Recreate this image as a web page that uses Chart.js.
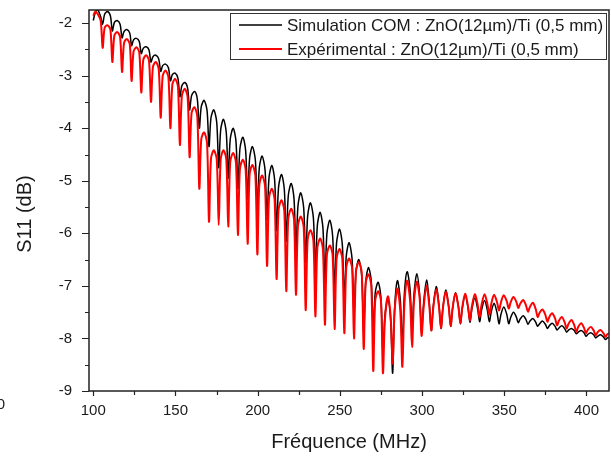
<!DOCTYPE html>
<html>
<head>
<meta charset="utf-8">
<title>S11 ZnO/Ti</title>
<script src="https://cdn.jsdelivr.net/npm/chart.js@4.4.1/dist/chart.umd.min.js"></script>
<style>
  html, body { margin: 0; padding: 0; background: #fff; }
</style>
</head>
<body>
<canvas id="s11Chart" width="611" height="457"></canvas>
<script>
// S11 of the ZnO(12um)/Ti (0.5 mm) resonator: COM simulation vs measurement.
// One row per resonance period: dip, rising shoulder, arch top, falling shoulder.

const FONT = "'Liberation Sans', Arial, sans-serif";
const TEXT_COLOR = "#1a1a1a";

// Frequencies (MHz), shared by both curves
const freq = [
  100.0, 101.2, 102.6, 104.5,
  105.7, 106.9, 108.6, 110.4,
  111.6, 112.8, 114.5, 116.3,
  117.5, 118.7, 120.4, 122.2,
  123.3, 124.5, 126.3, 128.0,
  129.2, 130.4, 132.2, 133.9,
  135.1, 136.3, 138.0, 139.8,
  141.0, 142.2, 143.9, 145.7,
  146.9, 148.1, 149.8, 151.5,
  152.7, 153.9, 155.7, 157.4,
  158.6, 159.8, 161.6, 163.3,
  164.5, 165.7, 167.4, 169.2,
  170.4, 171.6, 173.3, 175.1,
  176.3, 177.5, 179.2, 180.9,
  182.1, 183.3, 185.1, 186.8,
  188.0, 189.2, 191.0, 192.7,
  193.9, 195.1, 196.8, 198.6,
  199.8, 201.0, 202.7, 204.5,
  205.7, 206.9, 208.6, 210.3,
  211.5, 212.7, 214.5, 216.2,
  217.4, 218.6, 220.4, 222.1,
  223.3, 224.5, 226.2, 228.0,
  229.2, 230.4, 232.1, 233.9,
  235.1, 236.3, 238.0, 239.7,
  240.9, 242.1, 243.9, 245.6,
  246.8, 248.0, 249.8, 251.5,
  252.7, 253.9, 255.6, 257.4,
  258.6, 259.8, 261.5, 263.3,
  264.5, 265.7, 267.4, 269.1,
  270.3, 271.5, 273.3, 275.0,
  276.2, 277.4, 279.2, 280.9,
  282.1, 283.3, 285.0, 286.8,
  288.0, 289.2, 290.9, 292.7,
  293.9, 295.1, 296.8, 298.5,
  299.7, 300.9, 302.7, 304.4,
  305.6, 306.8, 308.6, 310.3,
  311.5, 312.7, 314.4, 316.2,
  317.4, 318.6, 320.3, 322.1,
  323.3, 324.5, 326.2, 327.9,
  329.1, 330.3, 332.1, 333.8,
  335.0, 336.2, 338.0, 339.7,
  340.9, 342.1, 343.8, 345.6,
  346.8, 348.0, 349.7, 351.5,
  352.7, 353.9, 355.6, 357.3,
  358.5, 359.7, 361.5, 363.2,
  364.4, 365.6, 367.4, 369.1,
  370.3, 371.5, 373.2, 375.0,
  376.2, 377.4, 379.1, 380.9,
  382.1, 383.3, 385.0, 386.7,
  387.9, 389.1, 390.9, 392.6,
  393.8, 395.0, 396.8, 398.5,
  399.7, 400.9, 402.6, 404.4,
  405.6, 406.8, 408.5, 410.3,
  411.5, 412.7, 413.7
];

// Simulation COM (dB)
const simS11 = [
  -1.95, -1.80, -1.74, -1.88,
  -2.02, -1.83, -1.78, -1.86,
  -2.15, -1.99, -1.95, -2.02,
  -2.28, -2.16, -2.12, -2.19,
  -2.43, -2.32, -2.29, -2.35,
  -2.58, -2.48, -2.45, -2.51,
  -2.74, -2.64, -2.61, -2.68,
  -2.92, -2.81, -2.78, -2.85,
  -3.10, -2.98, -2.95, -3.05,
  -3.40, -3.19, -3.13, -3.24,
  -3.65, -3.38, -3.30, -3.45,
  -4.00, -3.59, -3.47, -3.66,
  -4.35, -3.80, -3.65, -3.89,
  -4.75, -4.03, -3.83, -4.08,
  -4.95, -4.21, -4.00, -4.25,
  -5.15, -4.39, -4.17, -4.43,
  -5.35, -4.57, -4.35, -4.61,
  -5.55, -4.75, -4.53, -4.80,
  -5.75, -4.94, -4.71, -4.98,
  -5.95, -5.12, -4.88, -5.16,
  -6.15, -5.29, -5.05, -5.34,
  -6.35, -5.48, -5.23, -5.52,
  -6.55, -5.67, -5.42, -5.71,
  -6.75, -5.85, -5.60, -5.90,
  -6.95, -6.01, -5.75, -6.05,
  -7.10, -6.18, -5.92, -6.22,
  -7.30, -6.43, -6.18, -6.48,
  -7.55, -6.73, -6.50, -6.81,
  -7.90, -6.93, -6.65, -6.91,
  -7.85, -7.13, -6.93, -7.23,
  -8.30, -7.57, -7.25, -7.67,
  -8.66, -7.43, -6.90, -7.29,
  -8.20, -7.17, -6.73, -7.07,
  -7.85, -7.15, -6.77, -7.16,
  -7.88, -7.34, -6.89, -7.32,
  -7.85, -7.39, -7.01, -7.37,
  -7.81, -7.41, -7.08, -7.39,
  -7.77, -7.42, -7.13, -7.40,
  -7.72, -7.42, -7.18, -7.41,
  -7.69, -7.44, -7.23, -7.44,
  -7.68, -7.46, -7.28, -7.46,
  -7.68, -7.49, -7.33, -7.51,
  -7.72, -7.54, -7.40, -7.54,
  -7.72, -7.60, -7.50, -7.59,
  -7.70, -7.63, -7.57, -7.64,
  -7.73, -7.67, -7.62, -7.69,
  -7.77, -7.72, -7.67, -7.73,
  -7.81, -7.76, -7.71, -7.77,
  -7.84, -7.80, -7.76, -7.81,
  -7.88, -7.84, -7.81, -7.85,
  -7.91, -7.88, -7.85, -7.89,
  -7.96, -7.92, -7.89, -7.93,
  -7.99, -7.96, -7.93, -7.97,
  -8.02, -7.99, -7.98
];

// Expérimental (dB)
const expS11 = [
  -1.86, -1.78, -1.82, -1.95,
  -2.47, -2.09, -2.04, -2.12,
  -2.74, -2.24, -2.17, -2.26,
  -2.93, -2.38, -2.30, -2.40,
  -3.10, -2.54, -2.46, -2.56,
  -3.32, -2.70, -2.61, -2.72,
  -3.50, -2.83, -2.74, -2.87,
  -3.80, -3.01, -2.90, -3.03,
  -4.00, -3.17, -3.06, -3.21,
  -4.32, -3.38, -3.25, -3.41,
  -4.55, -3.71, -3.60, -3.79,
  -5.15, -4.21, -4.08, -4.28,
  -5.78, -4.58, -4.42, -4.59,
  -5.84, -4.59, -4.42, -4.59,
  -5.87, -4.64, -4.47, -4.66,
  -6.03, -4.77, -4.60, -4.79,
  -6.20, -4.88, -4.70, -4.90,
  -6.40, -5.08, -4.90, -5.11,
  -6.62, -5.33, -5.15, -5.36,
  -6.87, -5.55, -5.37, -5.58,
  -7.10, -5.72, -5.53, -5.73,
  -7.17, -5.86, -5.68, -5.89,
  -7.46, -6.12, -5.94, -6.14,
  -7.58, -6.28, -6.10, -6.30,
  -7.74, -6.41, -6.23, -6.42,
  -7.82, -6.48, -6.30, -6.49,
  -7.90, -6.65, -6.48, -6.66,
  -8.00, -6.72, -6.55, -6.75,
  -8.20, -6.95, -6.78, -7.00,
  -8.62, -7.28, -7.10, -7.29,
  -8.66, -7.64, -7.20, -7.58,
  -8.48, -7.48, -7.05, -7.50,
  -8.54, -7.39, -6.90, -7.28,
  -8.16, -7.29, -6.92, -7.23,
  -7.95, -7.43, -7.00, -7.38,
  -7.85, -7.42, -7.07, -7.40,
  -7.80, -7.42, -7.11, -7.40,
  -7.76, -7.42, -7.14, -7.40,
  -7.71, -7.40, -7.15, -7.38,
  -7.66, -7.39, -7.16, -7.36,
  -7.60, -7.36, -7.16, -7.34,
  -7.55, -7.34, -7.17, -7.31,
  -7.47, -7.31, -7.18, -7.29,
  -7.43, -7.31, -7.21, -7.30,
  -7.42, -7.34, -7.27, -7.37,
  -7.49, -7.40, -7.32, -7.44,
  -7.59, -7.51, -7.45, -7.55,
  -7.68, -7.59, -7.52, -7.62,
  -7.75, -7.66, -7.59, -7.69,
  -7.81, -7.72, -7.65, -7.75,
  -7.87, -7.78, -7.71, -7.80,
  -7.90, -7.83, -7.78, -7.85,
  -7.94, -7.88, -7.84, -7.90,
  -7.97, -7.92, -7.90
];

// Axis ticks
const xMajorTicks = [100, 150, 200, 250, 300, 350, 400];
const xMinorTicks = [125, 175, 225, 275, 325, 375];
const yMajorTicks = [-9, -8, -7, -6, -5, -4, -3, -2];
const yMinorTicks = [-8.5, -7.5, -6.5, -5.5, -4.5, -3.5, -2.5];

const seriesLabels = [
  "Simulation COM : ZnO(12µm)/Ti (0,5 mm)",
  "Expérimental : ZnO(12µm)/Ti (0,5 mm)",
];

const simPoints = freq.map((f, i) => ({ x: f, y: simS11[i] }));
const expPoints = freq.map((f, i) => ({ x: f, y: expS11[i] }));

// Frame, outward tick marks, y title and the boxed legend
const decorPlugin = {
  id: "decor",
  afterDatasetsDraw(chart) {
    const { ctx, chartArea: a, scales } = chart;
    const xs = scales.x;
    const ys = scales.y;
    ctx.save();

    ctx.strokeStyle = "#222";
    ctx.lineWidth = 1.5;
    ctx.strokeRect(a.left, a.top, a.right - a.left, a.bottom - a.top);

    ctx.lineWidth = 1.2;
    ctx.beginPath();
    xMajorTicks.forEach((v) => {
      const px = Math.round(xs.getPixelForValue(v)) + 0.5;
      ctx.moveTo(px, a.bottom);
      ctx.lineTo(px, a.bottom + 5);
    });
    xMinorTicks.forEach((v) => {
      const px = Math.round(xs.getPixelForValue(v)) + 0.5;
      ctx.moveTo(px, a.bottom);
      ctx.lineTo(px, a.bottom + 4);
    });
    yMajorTicks.forEach((v) => {
      const py = Math.round(ys.getPixelForValue(v)) + 0.5;
      ctx.moveTo(a.left, py);
      ctx.lineTo(a.left - 7, py);
    });
    yMinorTicks.forEach((v) => {
      const py = Math.round(ys.getPixelForValue(v)) + 0.5;
      ctx.moveTo(a.left, py);
      ctx.lineTo(a.left - 4, py);
    });
    ctx.stroke();

    // y axis title (sits a little below the plot centre in the original)
    ctx.fillStyle = TEXT_COLOR;
    ctx.font = "20px " + FONT;
    ctx.textAlign = "center";
    ctx.textBaseline = "middle";
    ctx.save();
    ctx.translate(25, 214);
    ctx.rotate(-Math.PI / 2);
    ctx.fillText("S11 (dB)", 0, 0);
    ctx.restore();

    // stray label cut by the left edge of the original picture
    ctx.font = "15px " + FONT;
    ctx.textAlign = "right";
    ctx.fillText("0", 5, 405);

    // legend box
    const box = { left: 230, top: 13, right: 606, bottom: 59 };
    ctx.fillStyle = "#fff";
    ctx.fillRect(box.left, box.top, box.right - box.left, box.bottom - box.top);
    ctx.strokeStyle = "#333";
    ctx.lineWidth = 1;
    ctx.strokeRect(box.left + 0.5, box.top + 0.5, box.right - box.left, box.bottom - box.top);

    const rows = [25, 49];
    chart.data.datasets.forEach((ds, i) => {
      ctx.strokeStyle = ds.borderColor;
      ctx.lineWidth = ds.borderWidth;
      ctx.beginPath();
      ctx.moveTo(239, rows[i]);
      ctx.lineTo(282, rows[i]);
      ctx.stroke();
      ctx.fillStyle = TEXT_COLOR;
      ctx.font = "17px " + FONT;
      ctx.textAlign = "left";
      ctx.textBaseline = "middle";
      ctx.fillText(ds.label, 287, rows[i] + 1);
    });

    ctx.restore();
  },
};

const ctx = document.getElementById("s11Chart").getContext("2d");

const s11Chart = new Chart(ctx, {
  type: "line",
  data: {
    datasets: [
      {
        label: seriesLabels[0],
        data: simPoints,
        borderColor: "#000000",
        borderWidth: 1.5,
        pointRadius: 0,
        tension: 0.3,
        order: 2,
      },
      {
        label: seriesLabels[1],
        data: expPoints,
        borderColor: "#ff0000",
        borderWidth: 2,
        pointRadius: 0,
        tension: 0.3,
        order: 1,
      },
    ],
  },
  options: {
    responsive: false,
    animation: false,
    layout: { padding: { top: 10, right: 2, left: 0, bottom: 0 } },
    plugins: {
      legend: { display: false },
      tooltip: { enabled: false },
    },
    scales: {
      x: {
        type: "linear",
        min: 97.4,
        max: 413.7,
        grid: { display: false, drawTicks: false },
        border: { display: false },
        afterBuildTicks: (axis) => {
          axis.ticks = xMajorTicks.map((v) => ({ value: v }));
        },
        afterFit: (axis) => {
          axis.height = 66;
          axis.paddingLeft = 0;
          axis.paddingRight = 0;
        },
        ticks: {
          padding: 11,
          color: TEXT_COLOR,
          font: { family: FONT, size: 15 },
          maxRotation: 0,
        },
        title: {
          display: true,
          text: "Fréquence (MHz)",
          color: TEXT_COLOR,
          font: { family: FONT, size: 20 },
          padding: { top: 0, bottom: 3 },
        },
      },
      y: {
        type: "linear",
        min: -9,
        max: -1.75,
        grid: { display: false, drawTicks: false },
        border: { display: false },
        afterBuildTicks: (axis) => {
          axis.ticks = yMajorTicks.map((v) => ({ value: v }));
        },
        afterFit: (axis) => {
          axis.width = 89;
          axis.paddingTop = 0;
          axis.paddingBottom = 0;
        },
        ticks: {
          padding: 17,
          color: TEXT_COLOR,
          font: { family: FONT, size: 15 },
        },
      },
    },
  },
  plugins: [decorPlugin],
});
</script>
</body>
</html>
